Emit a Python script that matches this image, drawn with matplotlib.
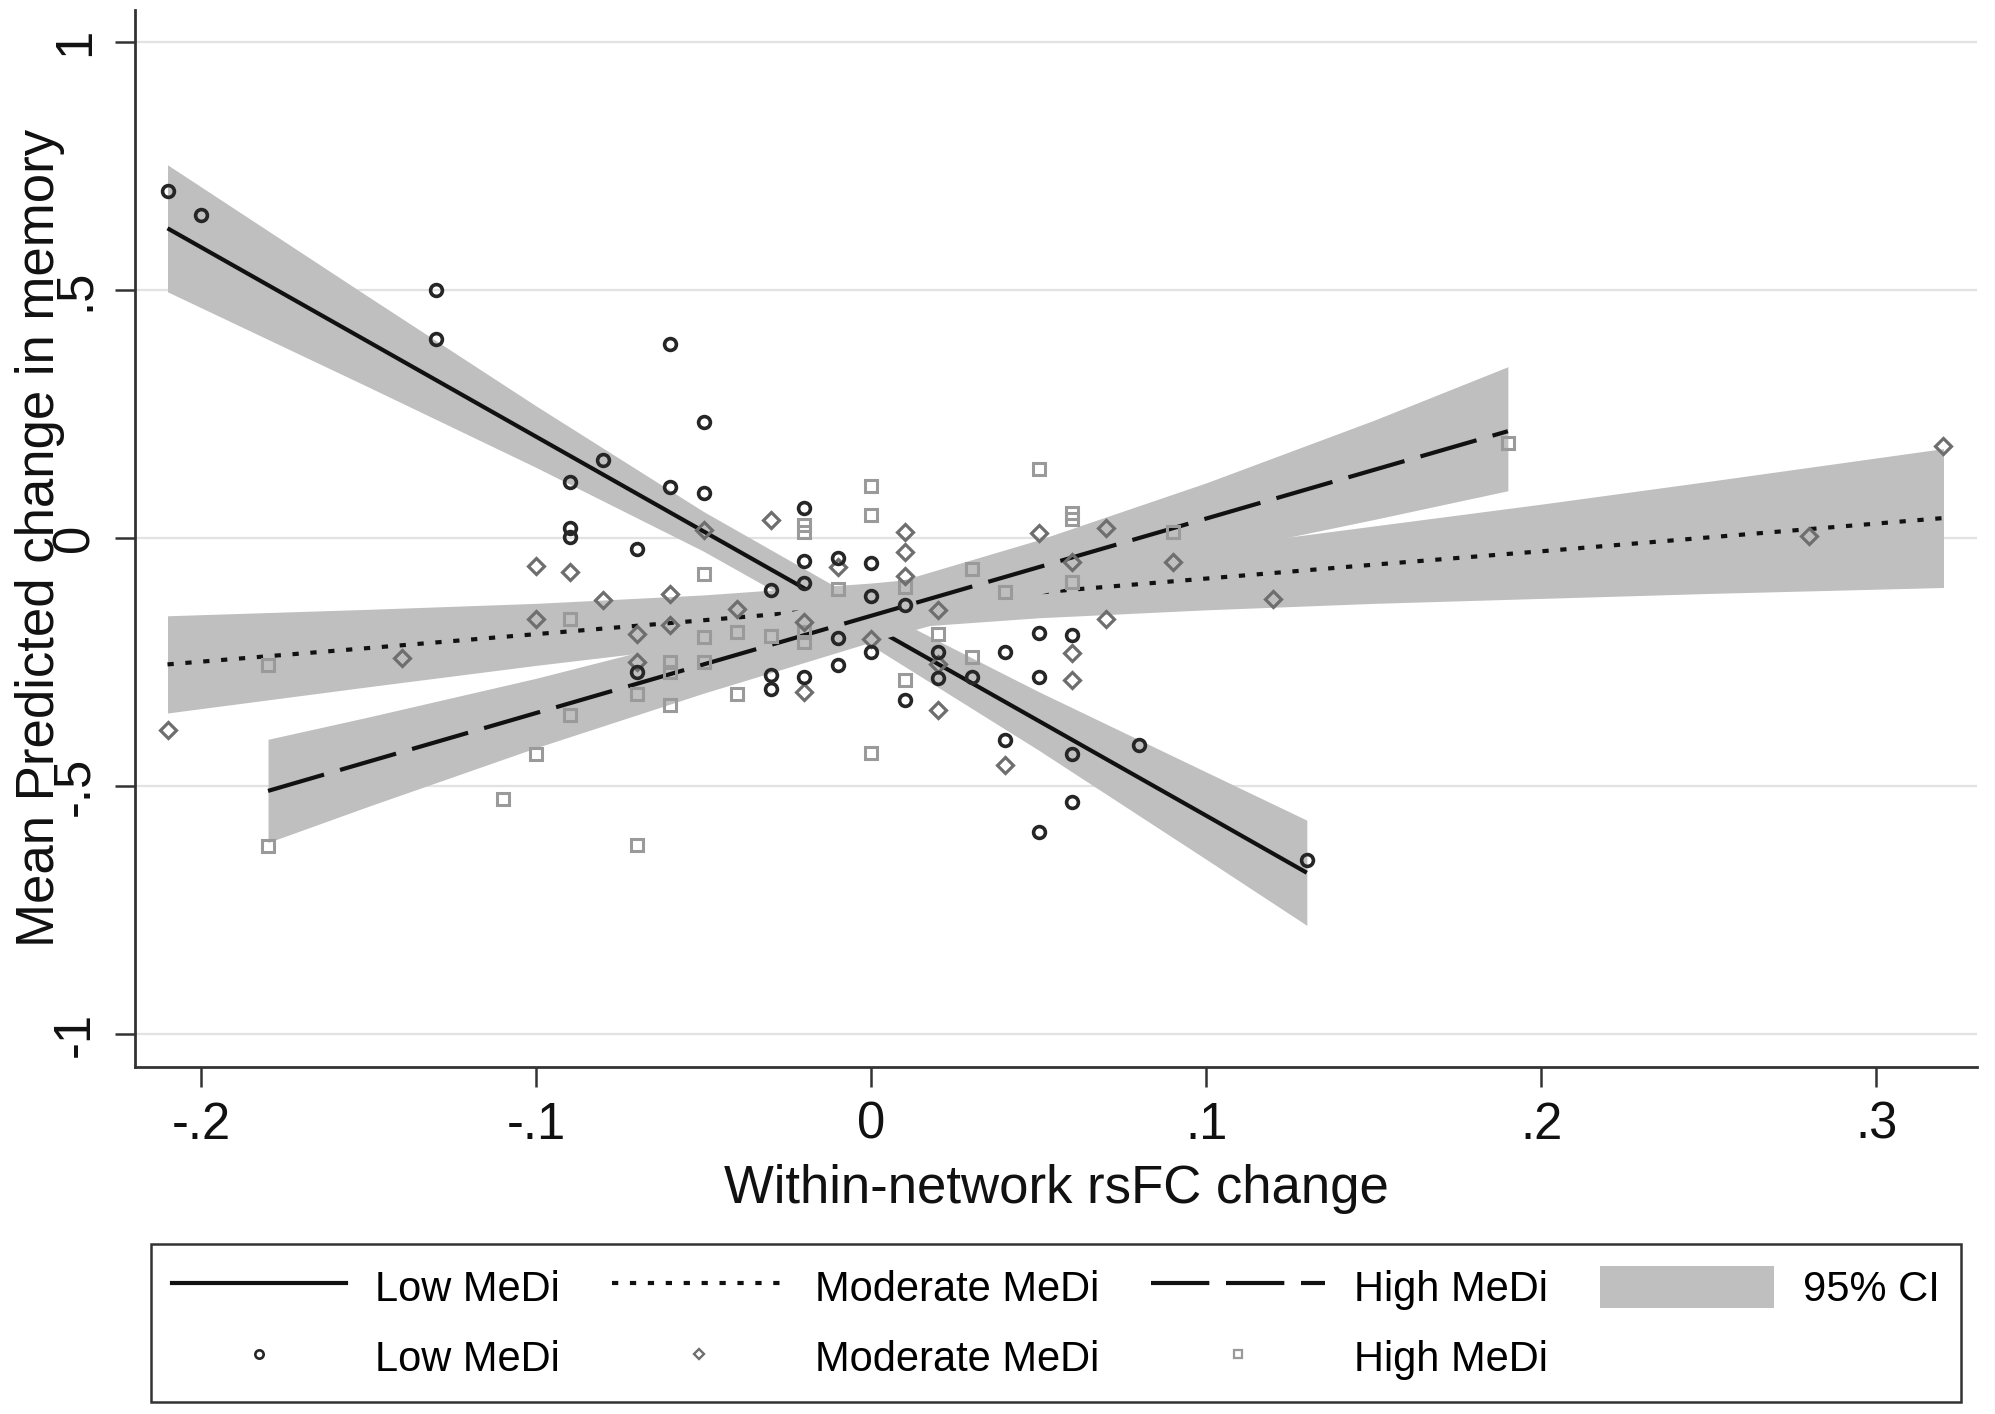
import matplotlib
matplotlib.use('Agg')
import matplotlib.pyplot as plt
from matplotlib.lines import Line2D
from matplotlib.patches import Patch

plt.rcParams['font.family'] = ['Liberation Sans', 'DejaVu Sans']

# ---------------- data ----------------
# Low MeDi observations (circles)
low_x = [-0.21, -0.20, -0.13, -0.13, -0.09, -0.09, -0.09, -0.08, -0.07, -0.07,
         -0.06, -0.06, -0.05, -0.05, -0.03, -0.03, -0.03, -0.02, -0.02, -0.02,
         -0.02, -0.01, -0.01, -0.01, 0.00, 0.00, 0.00, 0.01, 0.01, 0.02,
         0.02, 0.03, 0.04, 0.04, 0.05, 0.05, 0.05, 0.06, 0.06, 0.06,
         0.08, 0.13]
low_y = [0.70, 0.65, 0.50, 0.40, 0.113, 0.020, 0.001, 0.157, -0.022, -0.270,
         0.39, 0.102, 0.233, 0.090, -0.106, -0.277, -0.304, 0.060, -0.046, -0.090,
         -0.280, -0.040, -0.202, -0.257, -0.050, -0.117, -0.231, -0.135, -0.327, -0.230,
         -0.282, -0.280, -0.230, -0.408, -0.191, -0.280, -0.592, -0.195, -0.435, -0.532,
         -0.418, -0.649]

# Moderate MeDi observations (diamonds)
mod_x = [-0.21, -0.14, -0.10, -0.10, -0.09, -0.08, -0.07, -0.07, -0.06, -0.06,
         -0.05, -0.04, -0.03, -0.02, -0.02, -0.01, 0.00, 0.01, 0.01, 0.01,
         0.02, 0.02, 0.02, 0.04, 0.05, 0.06, 0.06, 0.06, 0.07, 0.07,
         0.09, 0.12, 0.28, 0.32]
mod_y = [-0.388, -0.243, -0.056, -0.163, -0.069, -0.126, -0.193, -0.250, -0.113, -0.176,
         0.015, -0.143, 0.037, -0.170, -0.310, -0.059, -0.203, 0.012, -0.028, -0.076,
         -0.146, -0.255, -0.347, -0.458, 0.010, -0.048, -0.232, -0.286, 0.020, -0.163,
         -0.049, -0.124, 0.003, 0.185]

# High MeDi observations (squares)
high_x = [-0.18, -0.18, -0.11, -0.10, -0.09, -0.09, -0.07, -0.07, -0.06, -0.06,
          -0.06, -0.05, -0.05, -0.05, -0.04, -0.04, -0.03, -0.02, -0.02, -0.02,
          -0.02, -0.01, 0.00, 0.00, 0.00, 0.01, 0.01, 0.02, 0.03, 0.03,
          0.04, 0.05, 0.06, 0.06, 0.06, 0.09, 0.19]
high_y = [-0.256, -0.622, -0.527, -0.435, -0.163, -0.357, -0.314, -0.620, -0.250, -0.270,
          -0.337, -0.072, -0.200, -0.250, -0.190, -0.314, -0.197, 0.025, 0.011, -0.190,
          -0.210, -0.103, 0.105, 0.046, -0.433, -0.287, -0.100, -0.193, -0.062, -0.240,
          -0.109, 0.139, 0.050, 0.038, -0.088, 0.011, 0.192]

# Predicted lines with 95% CI (read along each band)
low_ci_x = [-0.21, -0.15, -0.10, -0.05, 0.00, 0.05, 0.10, 0.13]
low_fit = [0.624, 0.395, 0.204, 0.013, -0.178, -0.369, -0.560, -0.675]
low_lo = [0.496, 0.304, 0.142, -0.027, -0.217, -0.428, -0.648, -0.781]
low_hi = [0.752, 0.486, 0.266, 0.053, -0.139, -0.310, -0.472, -0.569]

mod_ci_x = [-0.21, -0.15, -0.10, -0.05, 0.00, 0.05, 0.10, 0.15, 0.20, 0.25, 0.32]
mod_fit = [-0.255, -0.222, -0.194, -0.166, -0.138, -0.110, -0.082, -0.054, -0.027, 0.001, 0.040]
mod_lo = [-0.353, -0.300, -0.257, -0.217, -0.185, -0.161, -0.145, -0.132, -0.122, -0.112, -0.100]
mod_hi = [-0.157, -0.144, -0.132, -0.115, -0.091, -0.059, -0.020, 0.024, 0.068, 0.114, 0.180]

high_ci_x = [-0.18, -0.15, -0.10, -0.05, 0.00, 0.05, 0.10, 0.15, 0.19]
high_fit = [-0.510, -0.451, -0.353, -0.255, -0.157, -0.059, 0.039, 0.137, 0.215]
high_lo = [-0.614, -0.541, -0.423, -0.313, -0.210, -0.114, -0.033, 0.037, 0.095]
high_hi = [-0.406, -0.361, -0.283, -0.197, -0.104, -0.004, 0.111, 0.237, 0.345]

x_ticks = [-0.2, -0.1, 0.0, 0.1, 0.2, 0.3]
x_tick_labels = ['-.2', '-.1', '0', '.1', '.2', '.3']
y_ticks = [-1.0, -0.5, 0.0, 0.5, 1.0]
y_tick_labels = ['-1', '-.5', '0', '.5', '1']

group_labels = ['Low MeDi', 'Moderate MeDi', 'High MeDi']

# ---------------- figure ----------------
W, H = 1995, 1414
fig = plt.figure(figsize=(W / 100, H / 100), dpi=100)
ax = fig.add_axes([135 / W, 1 - 1067 / H, (1977 - 135) / W, (1067 - 10) / H])

BAND = '#bfbfbf'
LINE = '#111111'
LW = 3.0
dotted = (0, (1.5, 2.8))
dashed = (0, (14.0, 4.0))

ax.fill_between(low_ci_x, low_lo, low_hi, color=BAND, lw=0, zorder=1)
ax.plot(low_ci_x, low_fit, color=LINE, lw=LW, ls='-', solid_capstyle='butt', zorder=2)
ax.fill_between(mod_ci_x, mod_lo, mod_hi, color=BAND, lw=0, zorder=3)
ax.plot(mod_ci_x, mod_fit, color=LINE, lw=LW, ls=dotted, dash_capstyle='butt', zorder=4)
ax.fill_between(high_ci_x, high_lo, high_hi, color=BAND, lw=0, zorder=5)
ax.plot(high_ci_x, high_fit, color=LINE, lw=LW, ls=dashed, dash_capstyle='butt', zorder=6)

C_LOW, C_MOD, C_HIGH = '#262626', '#6e6e6e', '#9a9a9a'
ax.plot(low_x, low_y, ls='none', marker='o', ms=8.5, mew=2.6, mfc='none', mec=C_LOW, zorder=9)
ax.plot(mod_x, mod_y, ls='none', marker='D', ms=7.8, mew=2.3, mfc='none', mec=C_MOD, zorder=8)
ax.plot(high_x, high_y, ls='none', marker='s', ms=8.4, mew=2.2, mfc='none', mec=C_HIGH, zorder=7)

ax.set_xlim(-0.2197, 0.330)
ax.set_ylim(-1.0665, 1.064)
ax.set_xticks(x_ticks)
ax.set_xticklabels(x_tick_labels)
ax.set_yticks(y_ticks)
ax.set_yticklabels(y_tick_labels, rotation=90, va='center')

ax.yaxis.grid(True, color='#e2e2e2', lw=1.6)
ax.xaxis.grid(False)
ax.set_axisbelow(True)

for s in ['top', 'right']:
    ax.spines[s].set_visible(False)
for s in ['left', 'bottom']:
    ax.spines[s].set_color('#333333')
    ax.spines[s].set_linewidth(2.0)

ax.tick_params(axis='both', length=14.4, width=1.8, color='#333333',
               labelsize=36.5, labelcolor='#111111')
ax.tick_params(axis='x', pad=10)
ax.tick_params(axis='y', pad=11)

fig.text(1056 / W, 1 - 1203 / H, 'Within-network rsFC change', ha='center',
         va='baseline', fontsize=38, color='#111111')
fig.text(40 / W, 1 - 538 / H, 'Mean Predicted change in memory', rotation=90,
         ha='center', va='center', fontsize=38, color='#111111')

handles = [
    Line2D([], [], color=LINE, lw=LW, ls='-'),
    Line2D([], [], ls='none', marker='o', ms=6, mew=1.9, mfc='none', mec=C_LOW),
    Line2D([], [], color=LINE, lw=LW, ls=dotted, dash_capstyle='butt'),
    Line2D([], [], ls='none', marker='D', ms=5.2, mew=1.7, mfc='none', mec=C_MOD),
    Line2D([], [], color=LINE, lw=LW, ls=dashed, dash_capstyle='butt'),
    Line2D([], [], ls='none', marker='s', ms=5.6, mew=1.6, mfc='none', mec=C_HIGH),
    Patch(facecolor=BAND, edgecolor='none'),
]
labels = [group_labels[0], group_labels[0], group_labels[1], group_labels[1],
          group_labels[2], group_labels[2], '95% CI']
leg = fig.legend(handles, labels, ncol=4, loc='center',
                 bbox_to_anchor=(1056 / W, 1 - 1323 / H), fontsize=30,
                 frameon=True, fancybox=False, shadow=False,
                 handlelength=4.17, handleheight=1.2, handletextpad=0.7,
                 columnspacing=1.25, borderpad=0.52, labelspacing=0.62)
fr = leg.get_frame()
fr.set_edgecolor('#333333')
fr.set_linewidth(1.8)
fr.set_alpha(1)

fig.savefig('out.png', dpi=100, facecolor='white')
